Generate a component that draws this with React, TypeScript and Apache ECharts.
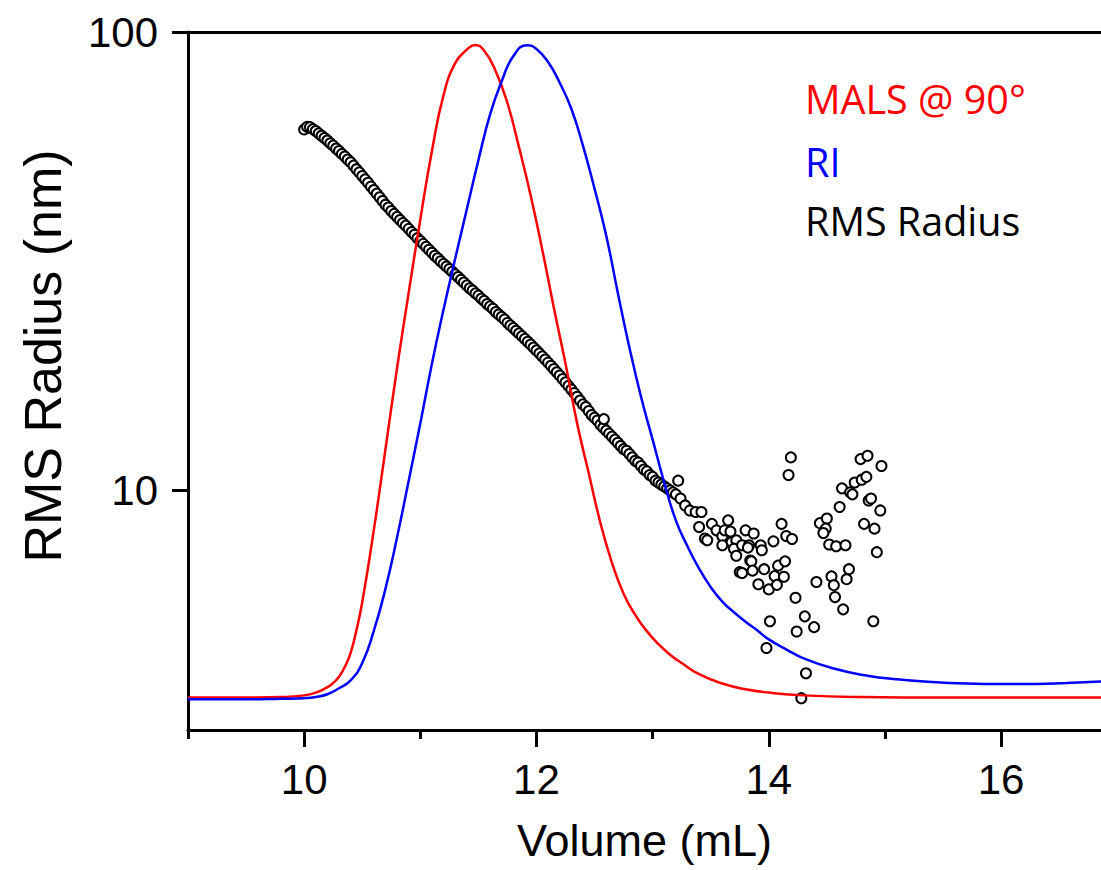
import React, { useEffect, useRef } from "react";
import * as echarts from "echarts";

// MALS @ 90° trace (red)
const malsVolume = [9.0, 9.5, 9.8, 10.0, 10.1, 10.2, 10.25, 10.3, 10.35, 10.4, 10.45, 10.5, 10.6, 10.7, 10.8, 10.9, 11.0, 11.1, 11.2, 11.3, 11.4, 11.47, 11.55, 11.65, 11.75, 11.85, 11.95, 12.05, 12.15, 12.25, 12.35, 12.45, 12.55, 12.65, 12.75, 12.85, 12.95, 13.05, 13.15, 13.25, 13.4, 13.6, 13.8, 14.0, 14.3, 14.8, 15.5, 16.0, 16.86];
const malsSignal = [3.53, 3.53, 3.54, 3.57, 3.62, 3.72, 3.8, 3.92, 4.12, 4.42, 4.95, 5.7, 8.2, 12.3, 18.5, 27.0, 39.0, 55.0, 72.8, 85.5, 91.5, 93.7, 91.0, 82.0, 70.0, 56.0, 44.0, 33.5, 25.0, 18.9, 14.0, 10.9, 8.5, 6.95, 5.95, 5.35, 4.93, 4.62, 4.38, 4.2, 3.97, 3.79, 3.68, 3.62, 3.57, 3.54, 3.53, 3.53, 3.53];

// RI trace (blue)
const riVolume = [9.0, 9.5, 9.8, 10.0, 10.1, 10.2, 10.3, 10.4, 10.5, 10.6, 10.7, 10.8, 10.9, 11.0, 11.1, 11.2, 11.3, 11.4, 11.5, 11.6, 11.7, 11.8, 11.92, 12.0, 12.1, 12.2, 12.3, 12.4, 12.5, 12.6, 12.7, 12.8, 12.9, 13.0, 13.1, 13.2, 13.3, 13.4, 13.5, 13.6, 13.7, 13.8, 13.9, 14.0, 14.15, 14.3, 14.55, 14.85, 15.1, 15.4, 15.7, 16.0, 16.3, 16.56, 16.86];
const riSignal = [3.50, 3.50, 3.51, 3.52, 3.54, 3.59, 3.70, 3.85, 4.2, 4.94, 6.1, 7.9, 10.5, 14.0, 18.9, 24.8, 32.0, 41.0, 52.5, 66.0, 78.0, 88.5, 93.6, 91.8, 86.0, 77.5, 68.0, 56.5, 45.5, 36.0, 27.0, 20.5, 16.0, 12.9, 10.4, 8.6, 7.55, 6.75, 6.15, 5.72, 5.42, 5.17, 4.95, 4.73, 4.5, 4.3, 4.09, 3.94, 3.87, 3.82, 3.79, 3.78, 3.78, 3.80, 3.83];

// RMS radius points (nm)
const rmsVolume = [
  10.000, 10.025, 10.050, 10.075, 10.100, 10.125, 10.150, 10.175, 10.200, 10.225, 10.250, 10.275, 10.300, 10.325, 10.350, 10.375,
  10.400, 10.425, 10.450, 10.475, 10.500, 10.525, 10.550, 10.575, 10.600, 10.625, 10.650, 10.675, 10.700, 10.725, 10.750, 10.775,
  10.800, 10.825, 10.850, 10.875, 10.900, 10.925, 10.950, 10.975, 11.000, 11.025, 11.050, 11.075, 11.100, 11.125, 11.150, 11.175,
  11.200, 11.225, 11.250, 11.275, 11.300, 11.325, 11.350, 11.375, 11.400, 11.425, 11.450, 11.475, 11.500, 11.525, 11.550, 11.575,
  11.600, 11.625, 11.650, 11.675, 11.700, 11.725, 11.750, 11.775, 11.800, 11.825, 11.850, 11.875, 11.900, 11.925, 11.950, 11.975,
  12.000, 12.025, 12.050, 12.075, 12.100, 12.125, 12.150, 12.175, 12.200, 12.225, 12.250, 12.275, 12.300, 12.325, 12.350, 12.375,
  12.400, 12.425, 12.450, 12.475, 12.500, 12.525, 12.550, 12.575, 12.600, 12.625, 12.650, 12.675, 12.700, 12.725, 12.750, 12.775,
  12.800, 12.825, 12.850, 12.875, 12.900, 12.925, 12.950, 12.975, 13.000, 13.025, 13.050, 13.075, 13.100, 13.125, 13.150, 13.175,
  13.200,
  12.58, 13.22, 13.24, 13.28, 13.32, 13.37, 13.42, 13.40, 13.45, 13.47, 13.51, 13.55, 13.60, 13.62, 13.65, 13.60, 13.67, 13.68,
  13.72, 13.70, 13.72, 13.77, 13.80, 13.83, 13.87, 13.82, 13.93, 13.94, 13.84, 13.85, 13.75, 13.77, 13.86, 13.96, 13.91, 14.00,
  14.05, 14.04, 14.11, 14.15, 14.20, 14.08, 14.14, 14.07, 14.13, 14.19, 14.17, 14.23, 14.41, 14.01, 13.98, 14.31, 14.39, 14.24,
  14.32, 14.28, 14.44, 14.50, 14.49, 14.47, 14.52, 14.58, 14.66, 14.61, 14.63, 14.70, 14.72, 14.74, 14.80, 14.84, 14.79, 14.85,
  14.97, 14.86, 14.88, 14.96, 14.82, 14.91, 14.93, 14.90, 14.54, 14.56, 14.69, 14.67, 14.57, 14.64,
];
const rmsRadius = [
  61.3, 62.1, 62.0, 61.4, 60.8, 60.1, 59.4, 58.7, 58.0, 57.2, 56.5, 55.7, 55.0, 54.2, 53.5, 52.7,
  52.0, 51.1, 50.2, 49.4, 48.5, 47.7, 46.9, 46.0, 45.2, 44.4, 43.6, 42.8, 42.0, 41.4, 40.7, 40.1,
  39.5, 38.9, 38.3, 37.8, 37.2, 36.6, 36.1, 35.5, 35.0, 34.5, 34.0, 33.5, 33.0, 32.5, 32.1, 31.6,
  31.2, 30.8, 30.4, 30.0, 29.6, 29.2, 28.8, 28.4, 28.0, 27.6, 27.3, 26.9, 26.6, 26.2, 25.9, 25.5,
  25.2, 24.9, 24.5, 24.2, 23.9, 23.6, 23.2, 22.9, 22.6, 22.3, 22.0, 21.7, 21.4, 21.1, 20.8, 20.5,
  20.2, 19.9, 19.6, 19.3, 19.0, 18.7, 18.4, 18.1, 17.8, 17.5, 17.2, 16.9, 16.6, 16.3, 16.0, 15.7,
  15.4, 15.2, 14.9, 14.6, 14.4, 14.2, 13.9, 13.7, 13.5, 13.3, 13.1, 12.9, 12.7, 12.5, 12.3, 12.2,
  12.0, 11.8, 11.6, 11.5, 11.3, 11.1, 11.0, 10.8, 10.7, 10.5, 10.4, 10.3, 10.2, 10.1, 10.0, 9.9,
  9.8,
  14.3, 10.5, 9.6, 9.27, 9.04, 8.97, 8.97, 8.32, 7.85, 7.78, 8.45, 8.18, 7.94, 8.18, 8.6, 7.59, 8.13, 7.71,
  7.78, 7.46, 7.2, 7.59, 8.18, 7.59, 8.05, 7.5, 7.59, 7.4, 7.03, 7.0, 6.63, 6.6, 6.68, 6.73, 6.24, 6.08,
  6.5, 7.74, 8.45, 7.95, 7.83, 6.85, 7.0, 6.22, 6.48, 11.8, 10.8, 5.83, 6.31, 5.18, 4.53, 5.31, 5.03, 4.92,
  3.99, 3.52, 8.48, 8.68, 8.25, 8.07, 7.62, 7.55, 7.59, 9.2, 10.1, 9.9, 9.8, 10.4, 10.55, 10.7, 11.7, 11.9,
  11.3, 9.5, 9.6, 9.04, 8.45, 8.25, 7.33, 5.18, 6.49, 6.21, 6.73, 6.4, 5.85, 5.5,
];

const xMajorTicks = [10, 12, 14, 16];
const xMinorTicks = [9, 11, 13, 15];
const yMajorTicks = [10, 100];
const yMinorTicks = [3, 4, 5, 6, 7, 8, 9, 20, 30, 40, 50, 60, 70, 80, 90];

const legendNames = ["MALS @ 90°", "RI", "RMS Radius"];
const legendColors = ["#ff0000", "#0000ff", "#000000"];

const AXIS_FONT = "'Liberation Sans', Arial, sans-serif";

export default function App() {
  const ref = useRef<HTMLDivElement>(null);

  useEffect(() => {
    if (!ref.current) return;
    const chart = echarts.init(ref.current, undefined, { renderer: "svg" });

    const zip = (xs: number[], ys: number[]) => xs.map((x, i) => [x, ys[i]]);
    const axisLine = { show: true, lineStyle: { color: "#000", width: 3 } };

    const option: any = {
      animation: false,
      backgroundColor: "#fff",
      grid: { left: 188, right: 0, top: 32, bottom: 140, containLabel: false },
      xAxis: [
        {
          type: "value",
          min: 9,
          max: 16.86,
          position: "bottom",
          axisLine,
          axisTick: { show: true, customValues: xMajorTicks, length: 17, lineStyle: { color: "#000", width: 3 } },
          axisLabel: {
            show: true,
            customValues: xMajorTicks,
            fontSize: 42,
            fontFamily: AXIS_FONT,
            color: "#000",
            margin: 28,
          },
          splitLine: { show: false },
          name: "Volume (mL)",
          nameLocation: "middle",
          nameGap: 88,
          nameTextStyle: { fontSize: 45, fontFamily: AXIS_FONT, color: "#000" },
        },
        {
          type: "value",
          min: 9,
          max: 16.86,
          position: "bottom",
          axisLine: { show: false },
          axisTick: { show: true, customValues: xMinorTicks, length: 9, lineStyle: { color: "#000", width: 3 } },
          axisLabel: { show: false },
          splitLine: { show: false },
        },
        {
          type: "value",
          min: 9,
          max: 16.86,
          position: "top",
          axisLine,
          axisTick: { show: false },
          axisLabel: { show: false },
          splitLine: { show: false },
        },
      ],
      yAxis: [
        {
          type: "log",
          logBase: 10,
          min: 3,
          max: 100,
          axisLine,
          axisTick: { show: true, customValues: yMajorTicks, length: 16, lineStyle: { color: "#000", width: 3 } },
          axisLabel: {
            show: true,
            customValues: yMajorTicks,
            fontSize: 42,
            fontFamily: AXIS_FONT,
            color: "#000",
            margin: 30,
          },
          splitLine: { show: false },
        },
        {
          type: "log",
          logBase: 10,
          min: 3,
          max: 100,
          axisLine: { show: false },
          axisTick: { show: true, customValues: yMinorTicks, length: 8, lineStyle: { color: "#000", width: 3 } },
          axisLabel: { show: false },
          splitLine: { show: false },
        },
      ],
      series: [
        {
          name: "RMS Radius",
          type: "scatter",
          xAxisIndex: 0,
          yAxisIndex: 0,
          data: zip(rmsVolume, rmsRadius),
          symbol: "circle",
          symbolSize: 10,
          itemStyle: { color: "#ffffff", borderColor: "#000000", borderWidth: 2, opacity: 1 },
          z: 2,
        },
        {
          name: "MALS @ 90°",
          type: "line",
          xAxisIndex: 0,
          yAxisIndex: 0,
          data: zip(malsVolume, malsSignal),
          showSymbol: false,
          smooth: 0.5,
          lineStyle: { color: "#ff0000", width: 2.5 },
          z: 3,
        },
        {
          name: "RI",
          type: "line",
          xAxisIndex: 0,
          yAxisIndex: 0,
          data: zip(riVolume, riSignal),
          showSymbol: false,
          smooth: 0.5,
          lineStyle: { color: "#0000ff", width: 2.5 },
          z: 3,
        },
      ],
      graphic: [
        {
          type: "text",
          x: 43,
          y: 356,
          rotation: Math.PI / 2,
          style: {
            text: "RMS Radius (nm)",
            font: `52px ${AXIS_FONT}`,
            fill: "#000",
            align: "center",
            verticalAlign: "middle",
          },
        },
        ...legendNames.map((name, i) => ({
          type: "text",
          x: 805,
          y: [99, 162, 221][i],
          style: {
            text: name,
            font: "39.5px 'Open Sans', 'Noto Sans', sans-serif",
            fill: legendColors[i],
            align: "left",
            verticalAlign: "middle",
          },
        })),
      ],
    };

    chart.setOption(option);
    return () => chart.dispose();
  }, []);

  return (
    <div
      ref={ref}
      style={{ position: "fixed", left: 0, top: 0, width: 1101, height: 870, background: "#fff" }}
    />
  );
}
